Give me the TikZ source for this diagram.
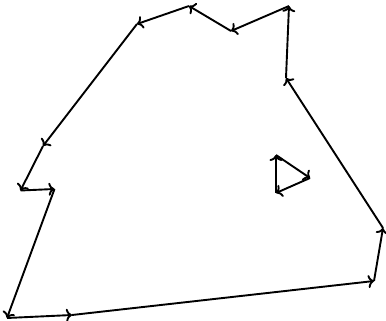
\documentclass[tikz,border=0pt]{standalone}
\usetikzlibrary{arrows.meta}
\begin{document}
\begin{tikzpicture}[x=1pt,y=-1pt,
  edge/.style={line width=1.9pt,-{To[length=6pt,width=13pt]}}]
\useasboundingbox (0,0) rectangle (386,321);
% outer polygon vertices
\coordinate (p1) at (54.5,189);
\coordinate (p2) at (7,318);
\coordinate (p3) at (72,315);
\coordinate (p4) at (374,281);
\coordinate (p5) at (383,228);
\coordinate (p6) at (286,78);
\coordinate (p7) at (289,6);
\coordinate (p8) at (231,31);
\coordinate (p9) at (189,6);
\coordinate (p10) at (137,24);
\coordinate (p11) at (43,146);
\coordinate (p12) at (20.5,190.5);
% inner triangle
\coordinate (t1) at (276,193);
\coordinate (t2) at (276,155);
\coordinate (t3) at (310,178);
\draw[edge] (p1) -- (p2);
\draw[edge] (p2) -- (p3);
\draw[edge] (p3) -- (p4);
\draw[edge] (p4) -- (p5);
\draw[edge] (p5) -- (p6);
\draw[edge] (p6) -- (p7);
\draw[edge] (p7) -- (p8);
\draw[edge] (p8) -- (p9);
\draw[edge] (p9) -- (p10);
\draw[edge] (p10) -- (p11);
\draw[edge] (p11) -- (p12);
\draw[edge] (p12) -- (p1);
\draw[edge] (t1) -- (t2);
\draw[edge] (t2) -- (t3);
\draw[edge] (t3) -- (t1);
\end{tikzpicture}
\end{document}
